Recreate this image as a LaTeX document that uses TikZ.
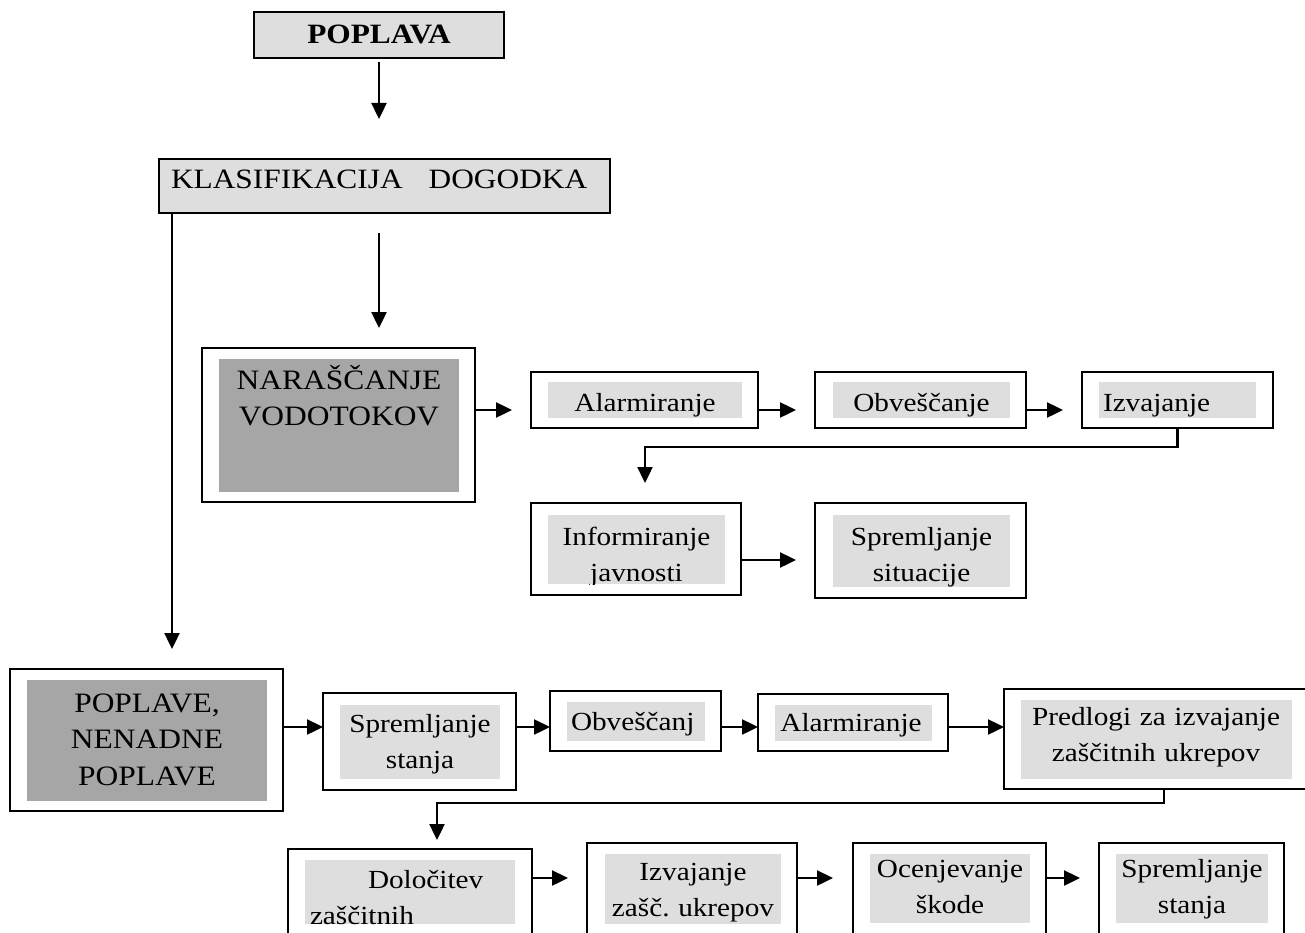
\documentclass[tikz,border=0pt]{standalone}
\usepackage{fontspec}
\setmainfont{Liberation Serif}[FakeStretch=1.12]
\usetikzlibrary{arrows.meta,calc}
\definecolor{lightg}{RGB}{222,222,222}
\definecolor{darkg}{RGB}{166,166,166}
\frenchspacing
\begin{document}
\begin{tikzpicture}[x=1pt,y=-1pt,
  box/.style={draw=black, line width=2.4pt, fill=white, inner sep=0pt, outer sep=0pt, anchor=north west},
  lbox/.style={box, fill=lightg},
  txt/.style={inner sep=0pt, outer sep=0pt, align=center, anchor=base, font=\fontsize{26.1}{36}\selectfont},
  bigtxt/.style={txt, font=\fontsize{28.1}{36}\selectfont},
  arr/.style={line width=2.4pt, -{Triangle[length=16pt,width=15pt]}}]
\useasboundingbox (0,0) rectangle (1305,933);
\fill[white] (0,0) rectangle (1305,933);
\clip (0,0) rectangle (1305,933);

% ---- boxes ----
\node[lbox, minimum width=250pt, minimum height=46pt] (pop) at (254,12) {};
\node[lbox, minimum width=451pt, minimum height=54pt] (klas) at (159,159) {};

\node[box, minimum width=273pt, minimum height=154pt] (nar) at (202,348) {};
\fill[darkg] (219,359) rectangle (459,492);
\node[box, minimum width=227pt, minimum height=56pt] (al1) at (531,372) {};
\fill[lightg] (548,382) rectangle (742,418);
\node[box, minimum width=211pt, minimum height=56pt] (ob1) at (815,372) {};
\fill[lightg] (833,382) rectangle (1010,418);
\node[box, minimum width=191pt, minimum height=56pt] (iz1) at (1082,372) {};
\fill[lightg] (1099,382) rectangle (1256,418);
\node[box, minimum width=210pt, minimum height=92pt] (inf) at (531,503) {};
\fill[lightg] (548,515) rectangle (725,584);
\node[box, minimum width=211pt, minimum height=95pt] (sit) at (815,503) {};
\fill[lightg] (833,515) rectangle (1010,587);

\node[box, minimum width=273pt, minimum height=142pt] (pov) at (10,669) {};
\fill[darkg] (27,680) rectangle (267,801);
\node[box, minimum width=193pt, minimum height=97pt] (sp1) at (323,693) {};
\fill[lightg] (340,705) rectangle (500,779);
\node[box, minimum width=171pt, minimum height=60pt] (ob2) at (550,691) {};
\fill[lightg] (567,702) rectangle (705,741);
\node[box, minimum width=190pt, minimum height=57pt] (al2) at (758,694) {};
\fill[lightg] (775,705) rectangle (932,741);
\node[box, minimum width=320pt, minimum height=100pt] (pre) at (1004,689) {};
\fill[lightg] (1021,700) rectangle (1292,779);

\node[box, minimum width=244pt, minimum height=120pt] (dol) at (288,849) {};
\fill[lightg] (305,860) rectangle (515,924);
\node[box, minimum width=210pt, minimum height=120pt] (izz) at (587,843) {};
\fill[lightg] (605,854) rectangle (781,924);
\node[box, minimum width=193pt, minimum height=120pt] (oce) at (853,843) {};
\fill[lightg] (870,854) rectangle (1030,923);
\node[box, minimum width=185pt, minimum height=120pt] (sp2) at (1099,843) {};
\fill[lightg] (1116,854) rectangle (1268,923);

% ---- texts ----
\node[txt, font=\bfseries\fontsize{28}{33}\selectfont] (tpop) at (379,44) {POPLAVA};
\node[txt, anchor=base west, font=\fontsize{28}{33}\selectfont] (tklas) at (171,189) {KLASIFIKACIJA\hspace{26pt}DOGODKA};
\node[bigtxt, text width=240pt] (tnar) at (339,389) {NARAŠČANJE\\VODOTOKOV};
\node[txt] (tal1) at (645,411) {Alarmiranje};
\node[txt] (tob1) at (921.5,411) {Obveščanje};
\node[txt, anchor=base west] (tiz1) at (1103,411) {Izvajanje};
\begin{scope}
  \clip (500,490) rectangle (760,584);
  \node[txt, text width=177pt] (tinf) at (636.5,545) {Informiranje\\javnosti};
\end{scope}
\node[txt, text width=177pt] (tsit) at (921.5,545) {Spremljanje\\situacije};
\node[bigtxt, text width=240pt, font=\fontsize{28.1}{36.5}\selectfont] (tpov) at (147,712) {POPLAVE,\\NENADNE\\POPLAVE};
\node[txt, text width=160pt] (tsp1) at (420,732) {Spremljanje\\stanja};
\node[txt, anchor=base west] (tob2) at (571,730) {Obveščanj};
\node[txt] (tal2) at (851,731) {Alarmiranje};
\node[txt, text width=271pt] (tpre) at (1156,725) {Predlogi za izvajanje\\zaščitnih ukrepov};
\node[txt, anchor=base west, text width=205pt, align=left] (tdol) at (310,888) {\hspace*{58pt}Določitev\\zaščitnih};
\node[txt, text width=176pt] (tizz) at (693,880) {Izvajanje\\zašč. ukrepov};
\node[txt, text width=160pt] (toce) at (950,877) {Ocenjevanje\\škode};
\node[txt, text width=152pt] (tsp2) at (1192,877) {Spremljanje\\stanja};

% ---- connectors ----
\draw[arr, shorten <=4pt, shorten >=40pt] (pop.south) -- (pop.south |- klas.north);
\draw[arr, shorten <=20pt, shorten >=20pt] (pop.south |- klas.south) -- (pop.south |- nar.north);
\coordinate (kl1) at ($(klas.south west)+(13,0)$);
\draw[arr, shorten >=20pt] (kl1) -- (kl1 |- pov.north);

\coordinate (r1) at (0,410);
\draw[arr, shorten >=19pt] (nar.east |- r1) -- (al1.west |- r1);
\draw[arr, shorten >=19pt] (al1.east |- r1) -- (ob1.west |- r1);
\draw[arr, shorten >=19pt] (ob1.east |- r1) -- (iz1.west |- r1);
\coordinate (k1) at (645,447);
\draw[arr, shorten >=20pt] (iz1.south) |- (k1) -- (k1 |- inf.north);
\coordinate (r2) at (0,560);
\draw[arr, shorten >=19pt] (inf.east |- r2) -- (sit.west |- r2);

\coordinate (r3) at (0,727);
\draw[arr] (pov.east |- r3) -- (sp1.west |- r3);
\draw[arr] (sp1.east |- r3) -- (ob2.west |- r3);
\draw[arr] (ob2.east |- r3) -- (al2.west |- r3);
\draw[arr] (al2.east |- r3) -- (pre.west |- r3);
\coordinate (k2) at (437,803);
\draw[arr, shorten >=9pt] (pre.south) |- (k2) -- (k2 |- dol.north);

\coordinate (r4) at (0,878);
\draw[arr, shorten >=19pt] (dol.east |- r4) -- (izz.west |- r4);
\draw[arr, shorten >=20pt] (izz.east |- r4) -- (oce.west |- r4);
\draw[arr, shorten >=19pt] (oce.east |- r4) -- (sp2.west |- r4);
\end{tikzpicture}
\end{document}
